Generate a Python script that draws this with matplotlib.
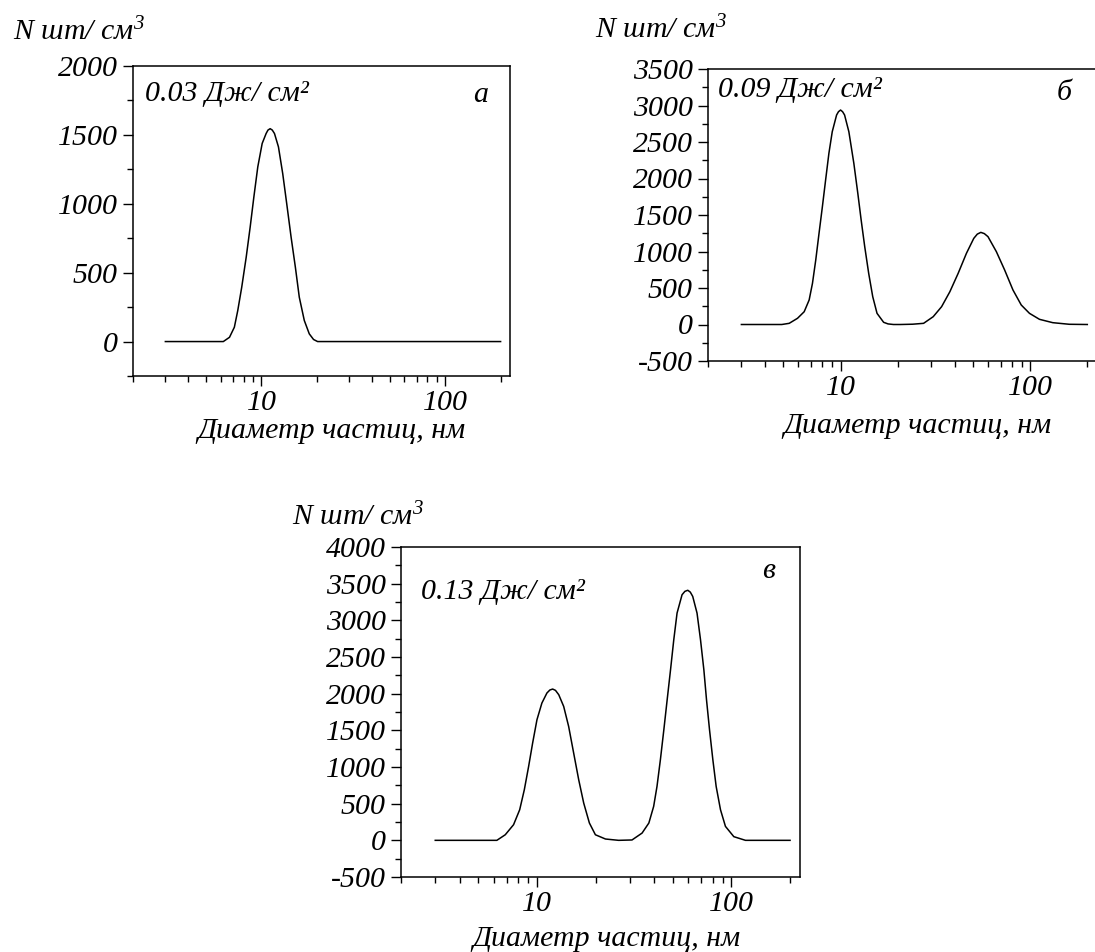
import matplotlib
matplotlib.use("Agg")
import matplotlib.pyplot as plt
from matplotlib.ticker import FixedLocator, MultipleLocator, NullFormatter, FixedFormatter, LogLocator

plt.rcParams['font.family'] = ['Liberation Serif', 'DejaVu Serif']
plt.rcParams['font.style'] = 'italic'
plt.rcParams['axes.unicode_minus'] = False
plt.rcParams['mathtext.fontset'] = 'custom'
plt.rcParams['mathtext.rm'] = 'Liberation Serif:italic'
plt.rcParams['mathtext.it'] = 'Liberation Serif:italic'

W, H = 1095, 952

# ---- data ----
# panel a: 0.03 J/cm2
d_a = [3, 6.2, 6.7, 7.12, 7.43, 7.81, 8.26, 8.68, 9.09, 9.55, 10.09, 10.6, 10.85, 11.15,
       11.45, 11.77, 12.37, 13.05, 13.72, 14.49, 15.29, 16.06, 17.1, 18.2, 19.2, 20.2, 200]
n_a = [0, 0, 31, 104, 225, 395, 613, 831, 1049, 1268, 1438, 1510, 1535, 1545,
       1535, 1510, 1413, 1219, 1001, 759, 540, 322, 153, 56, 15, 0, 0]

# panel b: 0.09 J/cm2
d_b = [3, 4.9, 5.36, 5.93, 6.43, 6.83, 7.11, 7.40, 7.70, 8.02, 8.34, 8.68, 9.04, 9.53,
       9.75, 10.0, 10.25, 10.5, 11.06, 11.75, 12.33, 12.84, 13.41, 14.07, 14.78, 15.57,
       16.87, 17.8, 19.0,
       20.7, 24.0, 27.4, 30.8, 34.1, 37.7, 41.7, 46.1, 50.4, 52.6, 54.9, 57.3, 59.9, 66.3,
       73.3, 81.1, 89.7, 99.1, 111.9, 131.5, 160.7, 200]
n_b = [0, 0, 16, 85, 175, 336, 564, 884, 1249, 1614, 1979, 2345, 2641, 2870,
       2915, 2938, 2915, 2870, 2641, 2208, 1797, 1432, 1066, 701, 381, 153,
       30, 8, 0,
       0, 4, 16, 107, 244, 449, 701, 975, 1180, 1238, 1262, 1245, 1203, 998,
       747, 473, 267, 153, 71, 25, 3, 0]

# panel v: 0.13 J/cm2
d_v = [3, 6.22, 6.87, 7.58, 8.15, 8.61, 9.06, 9.50, 10.0, 10.6, 11.25, 11.65, 12.04,
       12.45, 12.94, 13.72, 14.55, 15.44, 16.39, 17.39, 18.6, 19.97, 22.5, 26.3, 30.8,
       34.7, 37.6, 39.8, 41.4, 43.1, 44.9, 46.7, 48.6, 50.5, 52.5, 55.7, 57.6, 59.6,
       61.4, 63.2, 66.5, 69.3, 72.1, 74.4, 77.1, 80.2, 83.4, 87.8, 93.1, 102.8, 118, 200]
n_v = [0, 0, 76, 213, 417, 690, 1008, 1327, 1645, 1872, 2009, 2050, 2063,
       2045, 1986, 1826, 1553, 1190, 826, 508, 236, 76, 18, 0, 5,
       99, 236, 463, 735, 1099, 1508, 1917, 2326, 2735, 3099, 3349, 3395, 3410,
       3385, 3326, 3099, 2735, 2326, 1917, 1508, 1099, 735, 417, 190, 50, 0, 0]

ylabel_text = "N шт/ см$^3$"
xlabel_text = "Диаметр частиц, нм"
x_ticks = [10, 100]
x_tick_labels = ["10", "100"]

panels = [
    dict(d=d_a, n=n_a, ylim=(-250, 2000), yticks=[0, 500, 1000, 1500, 2000],
         box=(133, 510, 66, 376), energy="0.03 Дж/ см²", letter="а",
         ylab=(13, 40), etxt=(145, 101), ltxt=(473, 102), xlab=(331, 438)),
    dict(d=d_b, n=n_b, ylim=(-500, 3500), yticks=list(range(-500, 3501, 500)),
         box=(708, 1097, 69, 361), energy="0.09 Дж/ см²", letter="б",
         ylab=(595, 38), etxt=(718, 97), ltxt=(1057, 100), xlab=(917, 433)),
    dict(d=d_v, n=n_v, ylim=(-500, 4000), yticks=list(range(-500, 4001, 500)),
         box=(401, 800, 547, 877), energy="0.13 Дж/ см²", letter="в",
         ylab=(292, 525), etxt=(421, 599), ltxt=(762, 578), xlab=(606, 946)),
]

fig = plt.figure(figsize=(W / 100, H / 100), dpi=100)
FS = 21.5

for p in panels:
    l, r, t, b = p['box']
    ax = fig.add_axes([l / W, 1 - b / H, (r - l) / W, (b - t) / H])
    ax.plot(p['d'], p['n'], color='black', lw=1.1, solid_joinstyle='round')
    ax.set_xscale('log')
    ax.set_xlim(2, 225)
    ax.set_ylim(*p['ylim'])
    ax.xaxis.set_major_locator(FixedLocator(x_ticks))
    ax.xaxis.set_major_formatter(FixedFormatter(x_tick_labels))
    ax.xaxis.set_minor_locator(LogLocator(base=10, subs=[2, 3, 4, 5, 6, 7, 8, 9], numticks=20))
    ax.xaxis.set_minor_formatter(NullFormatter())
    ax.yaxis.set_major_locator(FixedLocator(p['yticks']))
    ax.yaxis.set_minor_locator(MultipleLocator(250))
    ax.tick_params(which='major', direction='out', length=7, width=1.0, labelsize=FS, pad=4)
    ax.tick_params(which='minor', direction='out', length=4, width=1.0)
    ax.tick_params(top=False, right=False, which='both')
    ax.tick_params(axis='x', which='major', pad=3)
    for s in ax.spines.values():
        s.set_linewidth(1.1)
    for lab in ax.get_xticklabels() + ax.get_yticklabels():
        lab.set_fontstyle('italic')
    fig.text(p['ylab'][0] / W, 1 - p['ylab'][1] / H, ylabel_text, fontsize=FS,
             ha='left', va='baseline')
    fig.text(p['etxt'][0] / W, 1 - p['etxt'][1] / H, p['energy'], fontsize=FS,
             ha='left', va='baseline')
    fig.text(p['ltxt'][0] / W, 1 - p['ltxt'][1] / H, p['letter'], fontsize=FS,
             ha='left', va='baseline')
    fig.text(p['xlab'][0] / W, 1 - p['xlab'][1] / H, xlabel_text, fontsize=FS,
             ha='center', va='baseline')

fig.savefig("out.png", dpi=100)
